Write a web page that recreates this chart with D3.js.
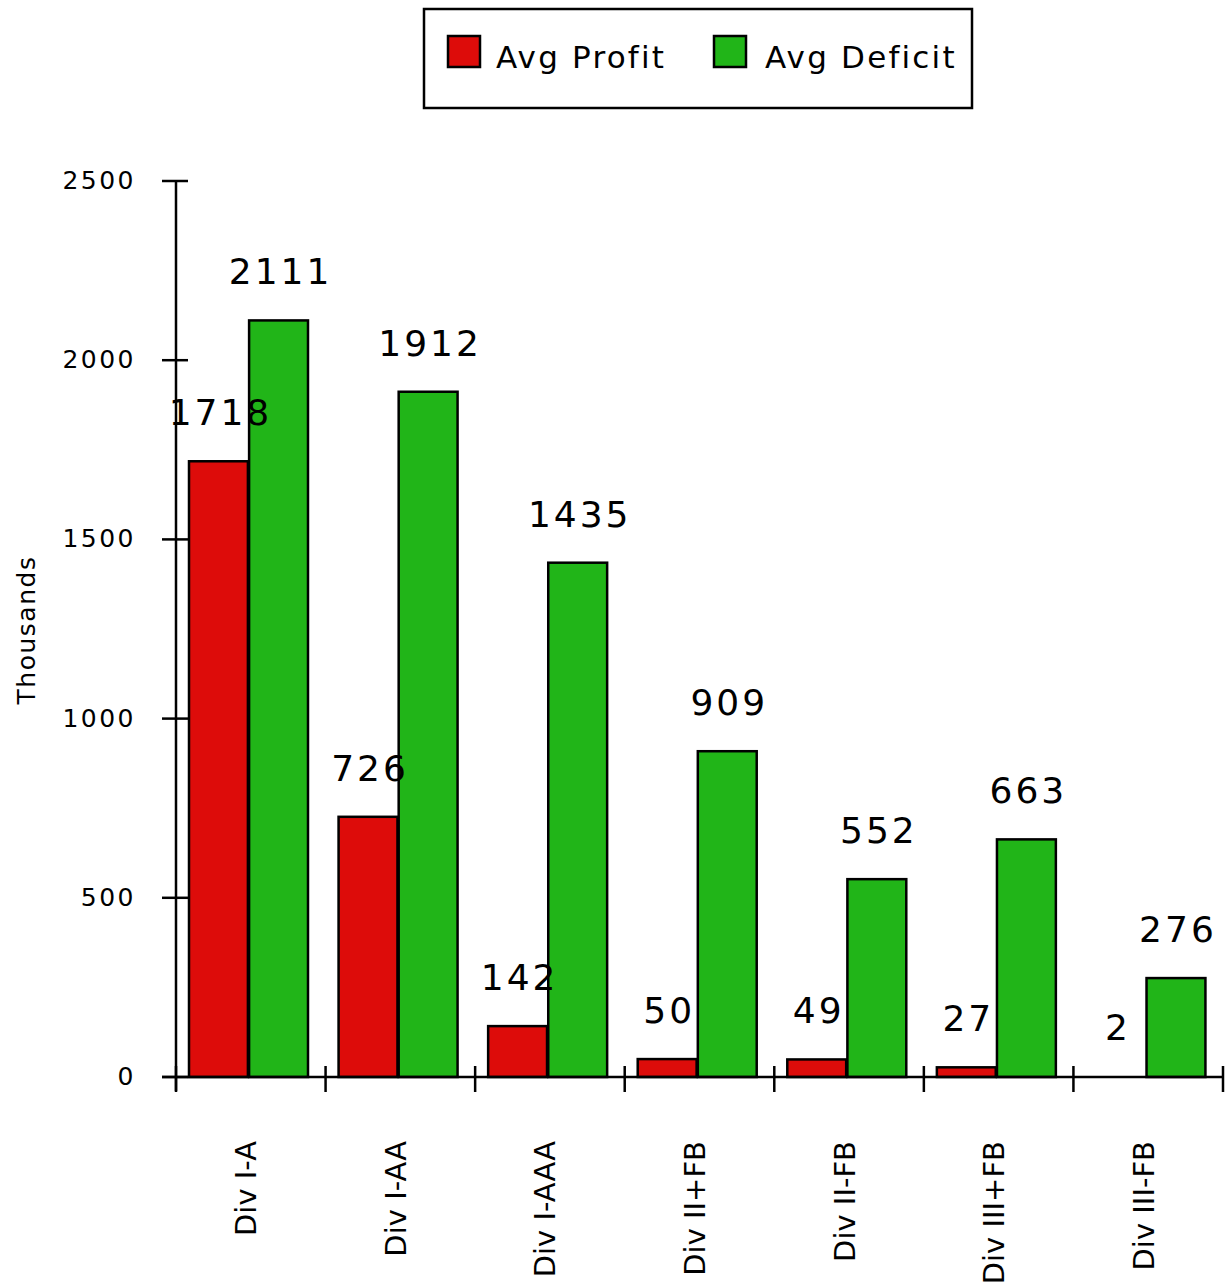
<!DOCTYPE html>
<html><head><meta charset="utf-8">
<script src="https://cdn.jsdelivr.net/npm/d3@7"></script>
<style>body{margin:0;background:#fff}svg{display:block}text{font-family:"DejaVu Sans",Verdana,sans-serif;fill:#000}</style>
</head><body>
<script>
const categories = ["Div I-A","Div I-AA","Div I-AAA","Div II+FB","Div II-FB","Div III+FB","Div III-FB"];
const seriesNames = ["Avg Profit","Avg Deficit"];
const seriesColors = ["#dd0c0a","#21b518"];
const avgProfit = [1718,726,142,50,49,27,2];
const avgDeficit = [2111,1912,1435,909,552,663,276];
const yTicks = [0,500,1000,1500,2000,2500];

const W=1227,H=1287;
const svg=d3.select("body").append("svg").attr("width",W).attr("height",H);
const y=d3.scaleLinear().domain([0,2500]).range([1077,181]);
const x0=d3.scaleBand().domain(categories).range([176,1223]).padding(0);
const x1=d3.scaleBand().domain(seriesNames).range([13,132]).paddingInner(0.02);
const seriesVals=[avgProfit,avgDeficit];

// bars
const barLayer=svg.append("g"), labelLayer=svg.append("g");
categories.forEach((c,i)=>{
  const g=barLayer.append("g").attr("transform",`translate(${x0(c)},0)`);
  const gl=labelLayer.append("g").attr("transform",`translate(${x0(c)},0)`);
  seriesNames.forEach((s,j)=>{
    const v=seriesVals[j][i];
    if(v>=5){
      g.append("rect").attr("x",x1(s)).attr("y",y(v)).attr("width",x1.bandwidth()).attr("height",y(0)-y(v))
       .attr("fill",seriesColors[j]).attr("stroke","#000").attr("stroke-width",2.5);
    }
    gl.append("text").attr("x",x1(s)+x1.bandwidth()/2+2).attr("y",y(v)-36).attr("text-anchor","middle")
     .style("font-size","36px").style("letter-spacing","3px").text(v);
  });
});

// y axis
const ya=svg.append("g");
ya.append("line").attr("x1",176).attr("x2",176).attr("y1",y(2500)).attr("y2",y(0)+14).attr("stroke","#000").attr("stroke-width",2.5);
yTicks.forEach(t=>{
  ya.append("line").attr("x1",162).attr("x2",188).attr("y1",y(t)).attr("y2",y(t)).attr("stroke","#000").attr("stroke-width",2.5);
  ya.append("text").attr("x",136).attr("y",y(t)+8).attr("text-anchor","end").style("font-size","25px").style("letter-spacing","2.5px").text(t);
});
svg.append("text").attr("transform","translate(35,630) rotate(-90)").attr("text-anchor","middle")
  .style("font-size","25px").style("letter-spacing","1.5px").text("Thousands");

// x axis
const xa=svg.append("g");
xa.append("line").attr("x1",162).attr("x2",1224).attr("y1",y(0)).attr("y2",y(0)).attr("stroke","#000").attr("stroke-width",2.5);
const edges=categories.map(c=>x0(c)).concat([x0.range()[1]]);
edges.forEach(e=>{
  xa.append("line").attr("x1",e).attr("x2",e).attr("y1",y(0)-11).attr("y2",y(0)+15).attr("stroke","#000").attr("stroke-width",2.5);
});
categories.forEach(c=>{
  xa.append("text").attr("transform",`translate(${x0(c)+x0.bandwidth()/2-5},1141) rotate(-90)`)
   .attr("text-anchor","end").attr("dy","0.36em").style("font-size","29px").text(c);
});

// legend
const lg=svg.append("g");
lg.append("rect").attr("x",424).attr("y",9).attr("width",548).attr("height",99).attr("fill","#fff").attr("stroke","#000").attr("stroke-width",2.5);
const legX=[448,714], legTX=[496,765];
seriesNames.forEach((s,j)=>{
  lg.append("rect").attr("x",legX[j]).attr("y",36).attr("width",32).attr("height",31).attr("fill",seriesColors[j]).attr("stroke","#000").attr("stroke-width",2.5);
  lg.append("text").attr("x",legTX[j]).attr("y",68).style("font-size","31px").style("letter-spacing","2.2px").text(s);
});
</script>
</body></html>
